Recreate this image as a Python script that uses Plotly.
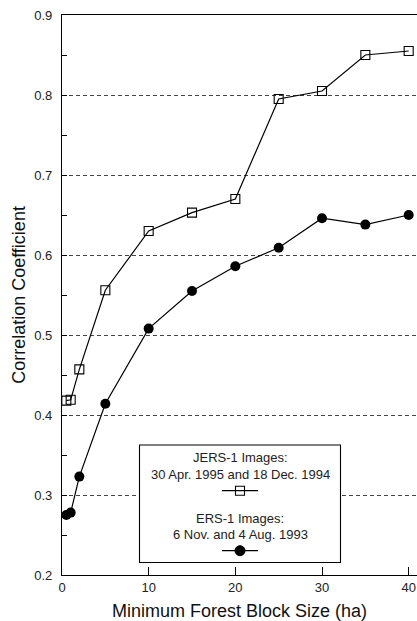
import plotly.graph_objects as go

block_size = [0.5, 1, 2, 5, 10, 15, 20, 25, 30, 35, 40]
jers_corr = [0.418, 0.419, 0.457, 0.556, 0.630, 0.653, 0.670, 0.795, 0.805, 0.850, 0.855]
ers_corr = [0.275, 0.278, 0.323, 0.414, 0.508, 0.555, 0.586, 0.609, 0.646, 0.638, 0.650]

x_ticks = [0, 10, 20, 30, 40]
y_ticks = [0.2, 0.3, 0.4, 0.5, 0.6, 0.7, 0.8, 0.9]

jers_label = ["JERS-1 Images:", "30 Apr. 1995 and 18 Dec. 1994"]
ers_label = ["ERS-1 Images:", "6 Nov. and 4 Aug. 1993"]

FONT = "Liberation Sans, Arial, sans-serif"
W, H = 417, 621
ML, MT, MB = 62, 15, 46
PW, PH = W - ML, H - MT - MB

fig = go.Figure()
fig.add_trace(go.Scatter(
    x=block_size, y=jers_corr, mode="lines+markers",
    line=dict(color="black", width=1.2),
    marker=dict(symbol="square-open", size=9, color="black", line=dict(width=1.1)),
    showlegend=False))
fig.add_trace(go.Scatter(
    x=block_size, y=ers_corr, mode="lines+markers",
    line=dict(color="black", width=1.2),
    marker=dict(symbol="circle", size=10, color="black"),
    showlegend=False))

def px_to_paper_x(px):
    return (px - ML) / PW

def px_to_paper_y(py):
    return (H - MB - py) / PH

shapes = []
# legend box
shapes.append(dict(type="rect", xref="paper", yref="paper",
                   x0=px_to_paper_x(139.5), x1=px_to_paper_x(340.5),
                   y0=px_to_paper_y(562.5), y1=px_to_paper_y(445),
                   fillcolor="white", line=dict(color="black", width=1.1), layer="above"))
cx = px_to_paper_x(240)
for py, sym in [(490.7, "square"), (550.7, "circle")]:
    yy = px_to_paper_y(py)
    shapes.append(dict(type="line", xref="paper", yref="paper",
                       x0=px_to_paper_x(222), x1=px_to_paper_x(258), y0=yy, y1=yy,
                       line=dict(color="black", width=1.2), layer="above"))
    if sym == "square":
        shapes.append(dict(type="rect", xref="paper", yref="paper",
                           xsizemode="pixel", ysizemode="pixel", xanchor=cx, yanchor=yy,
                           x0=-4.5, x1=4.5, y0=-4.5, y1=4.5,
                           fillcolor="rgba(0,0,0,0)", line=dict(color="black", width=1.1),
                           layer="above"))
    else:
        shapes.append(dict(type="circle", xref="paper", yref="paper",
                           xsizemode="pixel", ysizemode="pixel", xanchor=cx, yanchor=yy,
                           x0=-5, x1=5, y0=-5, y1=5,
                           fillcolor="black", line=dict(color="black", width=1),
                           layer="above"))

annotations = []
for py, txt in [(457, jers_label[0]), (474, jers_label[1]),
                (518, ers_label[0]), (534, ers_label[1])]:
    annotations.append(dict(x=cx, y=px_to_paper_y(py), xref="paper", yref="paper",
                            text=txt, showarrow=False, xanchor="center", yanchor="middle",
                            font=dict(family=FONT, size=13, color="#222")))

fig.update_layout(
    width=W, height=H,
    margin=dict(l=ML, r=0, t=MT, b=MB, pad=0),
    paper_bgcolor="white", plot_bgcolor="white",
    font=dict(family=FONT, color="#222"),
    shapes=shapes, annotations=annotations,
    xaxis=dict(
        range=[0, PW / 86.67 * 10], tickvals=x_ticks, ticktext=[str(v) for v in x_ticks],
        ticks="inside", ticklen=8, tickwidth=1, tickcolor="black",
        showline=True, linecolor="black", linewidth=1.3, mirror=True,
        showgrid=False, zeroline=False,
        tickfont=dict(family=FONT, size=13, color="#222"),
        title=dict(text="Minimum Forest Block Size (ha)",
                   font=dict(family=FONT, size=18, color="#111"), standoff=10),
    ),
    yaxis=dict(
        range=[0.2, 0.9], tickvals=y_ticks, ticktext=["%.1f" % v for v in y_ticks],
        ticks="inside", ticklen=5, tickwidth=1, tickcolor="black",
        minor=dict(dtick=0.05, tick0=0.2, ticks="inside", ticklen=5, tickcolor="black", showgrid=False),
        showline=True, linecolor="black", linewidth=1.3,
        showgrid=True, gridcolor="#444", gridwidth=1, griddash="4px,3px",
        zeroline=False, ticklabelstandoff=6,
        tickfont=dict(family=FONT, size=13, color="#222"),
        title=dict(text="Correlation Coefficient",
                   font=dict(family=FONT, size=18, color="#111"), standoff=3),
    ),
)

fig.write_html("out.html")
